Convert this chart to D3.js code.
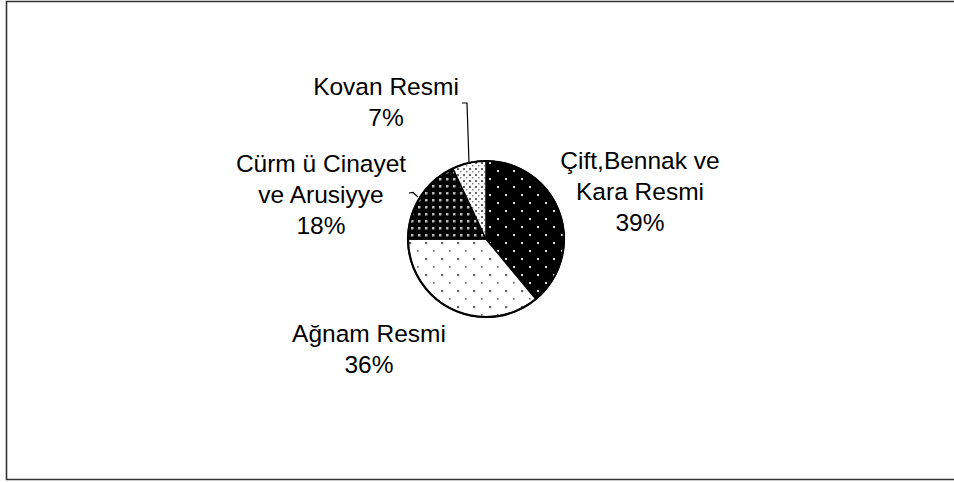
<!DOCTYPE html>
<html><head><meta charset="utf-8">
<script src="https://cdn.jsdelivr.net/npm/d3@7"></script>
<style>body{margin:0;background:#fff}svg{display:block}</style>
</head><body>
<script>
const categories = ["Çift,Bennak ve Kara Resmi", "Ağnam Resmi", "Cürm ü Cinayet ve Arusiyye", "Kovan Resmi"];
const values = [39, 36, 18, 7];
const labelLines = [["Çift,Bennak ve", "Kara Resmi"], ["Ağnam Resmi"], ["Cürm ü Cinayet", "ve Arusiyye"], ["Kovan Resmi"]];

const W = 954, H = 482;
const svg = d3.select("body").append("svg").attr("width", W).attr("height", H);
const defs = svg.append("defs");

// patterns
function pat(id, w, h, bg, dots) {
  const p = defs.append("pattern").attr("id", id).attr("patternUnits", "userSpaceOnUse")
    .attr("width", w).attr("height", h);
  p.append("rect").attr("width", w).attr("height", h).attr("fill", bg);
  dots.forEach(d => p.append("rect").attr("x", d[0]).attr("y", d[1]).attr("width", d[2]).attr("height", d[2]).attr("fill", d[3]));
}
pat("p0", 16, 16, "#000", [[3, 3, 2, "#ddd"], [11, 11, 2, "#ddd"]]);
pat("p1", 16, 16, "#fff", [[3, 3, 2.2, "#666"], [11, 11, 1.6, "#666"]]);
pat("p2", 7, 7, "#000", [[2, 2, 2.5, "#bbb"]]);
pat("p3", 6, 6, "#fff", [[1, 1, 2, "#666"], [4, 4, 1.5, "#888"]]);

// frame
svg.append("path").attr("d", "M970,1.5 H6.5 V479.5 H970").attr("fill", "none")
  .attr("stroke", "#333").attr("stroke-width", 1.6);

const cx = 486, cy = 239, r = 78;
const pie = d3.pie().sort(null).value(d => d);
const arcs = pie(values);
const arc = d3.arc().innerRadius(0).outerRadius(r);
const g = svg.append("g").attr("transform", `translate(${cx},${cy})`);
g.selectAll("path.slice").data(arcs).enter().append("path").attr("class", "slice")
  .attr("d", arc).attr("fill", (d, i) => `url(#p${i})`)
  .attr("stroke", "#000").attr("stroke-width", 1.5).attr("stroke-linejoin", "round");
g.append("circle").attr("r", r).attr("fill", "none").attr("stroke", "#000").attr("stroke-width", 2.2);

// labels
const labelPos = [
  {x: 640, y: 169}, {x: 369, y: 342}, {x: 321, y: 172}, {x: 386, y: 95}
];
const lh = 31;
labelPos.forEach((p, i) => {
  const lines = labelLines[i].concat([Math.round(values[i] / d3.sum(values) * 100) + "%"]);
  const t = svg.append("text").attr("text-anchor", "middle")
    .attr("font-family", "Liberation Sans, Arial, sans-serif").attr("font-size", 24.5).attr("fill", "#000");
  lines.forEach((s, k) => t.append("tspan").attr("x", p.x).attr("y", p.y + k * lh).text(s));
});

// leader lines
const line = d3.line();
svg.append("path").attr("d", line([[462, 103], [467, 103], [469, 163]]))
  .attr("fill", "none").attr("stroke", "#000").attr("stroke-width", 1.2);
svg.append("path").attr("d", line([[409, 193], [413, 192.5], [418, 197]]))
  .attr("fill", "none").attr("stroke", "#000").attr("stroke-width", 1.2);
</script>
</body></html>
